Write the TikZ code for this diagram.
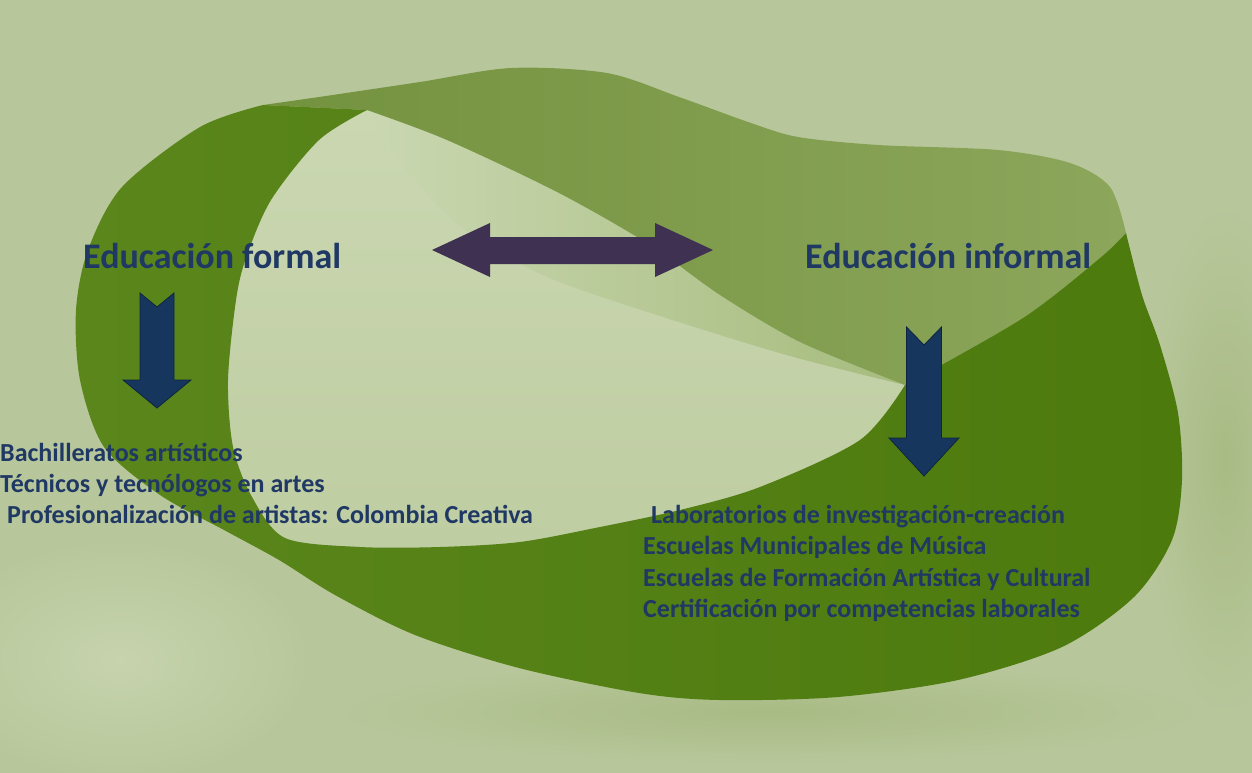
\documentclass[tikz,border=0pt]{standalone}
\usepackage{fontspec}
\setmainfont{Carlito}
\usetikzlibrary{positioning}
\definecolor{paper}{HTML}{B8C79B}
\definecolor{paperlight}{HTML}{C6D3AD}
\definecolor{papershade}{HTML}{A8BB84}
\definecolor{holepale}{HTML}{CAD7B1}
\definecolor{holemid}{HTML}{BFCDA2}
\definecolor{innerface}{HTML}{A6BC7D}
\definecolor{stripdarkL}{HTML}{5A861C}
\definecolor{stripdarkM}{HTML}{648D2A}
\definecolor{stripdarkR}{HTML}{4D7A0D}
\definecolor{stripmidL}{HTML}{73923E}
\definecolor{stripmidR}{HTML}{8CA65B}
\definecolor{navytext}{HTML}{1F3864}
\definecolor{navyarrow}{HTML}{17365D}
\definecolor{navyline}{HTML}{0E2440}
\definecolor{plum}{HTML}{3F3152}

\begin{document}
\begin{tikzpicture}[x=1pt,y=-1pt,
    heading/.style={font=\bfseries\fontsize{36}{40}\selectfont,text=navytext,anchor=base west,inner sep=0pt},
    item/.style={font=\bfseries\fontsize{26}{30}\selectfont,text=navytext,anchor=base west,inner sep=0pt},
    downarrow/.style={fill=navyarrow,draw=navyline,line width=0.8pt,line join=miter},
    linkarrow/.style={fill=plum}]
    \useasboundingbox (0,0) rectangle (1252,773);
    \fill[paper] (0,0) rectangle (1252,773);
    \shade[inner color=paperlight,outer color=paper] (120,660) ellipse (190 and 120);
    \shade[inner color=papershade,outer color=paper] (1225,460) ellipse (80 and 260);
    \shade[inner color=papershade,outer color=paper] (770,712) ellipse (440 and 52);

    \shade[top color=holepale,bottom color=holemid]
        plot[smooth] coordinates {(367,110) (447,140) (559,193) (650,245) (720,295) (800,342) (905,385)}
        -- plot[smooth] coordinates {(905,385) (860,440) (760,487) (680,510) (600,527) (520,542) (440,547) (360,547) (285,538) (252,497) (233,447) (228,380) (236,300) (246,258) (271,200) (319,140) (367,110)}
        -- cycle;
    \shade[shading=axis,shading angle=70,left color=holepale,right color=innerface]
        plot[smooth] coordinates {(367,110) (447,140) (559,193) (650,245) (720,295) (800,342) (905,385)}
        -- plot[smooth] coordinates {(905,385) (790,356) (660,316) (545,276) (460,226) (400,162) (367,110)}
        -- cycle;

    \shade[left color=stripmidL,right color=stripmidR]
        plot[smooth] coordinates {(263,105) (319,97) (420,82) (511,68) (607,73) (679,97) (751,123) (798,137) (878,145) (998,150) (1070,163) (1110,187) (1126,233)}
        -- plot[smooth] coordinates {(1126,233) (1100,258) (1023,318) (905,385)}
        -- plot[smooth] coordinates {(905,385) (800,342) (720,295) (650,245) (559,193) (447,140) (367,110)}
        -- cycle;

    \shade[left color=stripdarkL,middle color=stripdarkM,right color=stripdarkR]
        plot[smooth] coordinates {(263,105) (200,127) (122,187) (88,250) (76,310) (80,380) (104,447) (160,495) (224,530) (279,560) (335,595) (415,635) (519,668) (639,693) (719,700) (838,697) (958,680) (1062,647) (1134,597) (1172,540) (1182,480) (1178,413) (1160,345) (1142,295) (1126,233)}
        -- plot[smooth] coordinates {(1126,233) (1100,258) (1023,318) (905,385)}
        -- plot[smooth] coordinates {(905,385) (860,440) (760,487) (680,510) (600,527) (520,542) (440,547) (360,547) (285,538) (252,497) (233,447) (228,380) (236,300) (246,258) (271,200) (319,140) (367,110)}
        -- cycle;

    \node[heading] (formal) at (83,268) {Educación formal};
    \node[heading] (informal) at (805,268) {Educación informal};

    \node[item] (bach) at (0,461) {Bachilleratos artísticos};
    \node[item] (tecn) at (0,492) {Técnicos y tecnólogos en artes};
    \node[item] (prof) at (7,523) {Profesionalización de artistas: Colombia Creativa};

    \node[item] (lab) at (651,523) {Laboratorios de investigación-creación};
    \node[item] (escm) at (643,554) {Escuelas Municipales de Música};
    \node[item] (escf) at (643,586) {Escuelas de Formación Artística y Cultural};
    \node[item] (cert) at (643,617) {Certificación por competencias laborales};

    \coordinate (ftail) at (157,293);
    \coordinate (itail) at (924,327);
    \coordinate (lleft) at (432,250);

    \filldraw[downarrow] (ftail) ++(-17,0) -- ++(17,14) -- ++(17,-14) -- ++(0,87) -- ++(17,0) -- ++(-34,28) -- ++(-34,-28) -- ++(17,0) -- cycle;
    \filldraw[downarrow] (itail) ++(-17.5,0) -- ++(17.5,18) -- ++(17.5,-18) -- ++(0,111) -- ++(17.5,0) -- ++(-35,38) -- ++(-35,-38) -- ++(17.5,0) -- cycle;
    \fill[linkarrow] (lleft) -- ++(58,-27) -- ++(0,14) -- ++(165,0) -- ++(0,-14) -- ++(58,27) -- ++(-58,27) -- ++(0,-13) -- ++(-165,0) -- ++(0,13) -- cycle;
\end{tikzpicture}
\end{document}
